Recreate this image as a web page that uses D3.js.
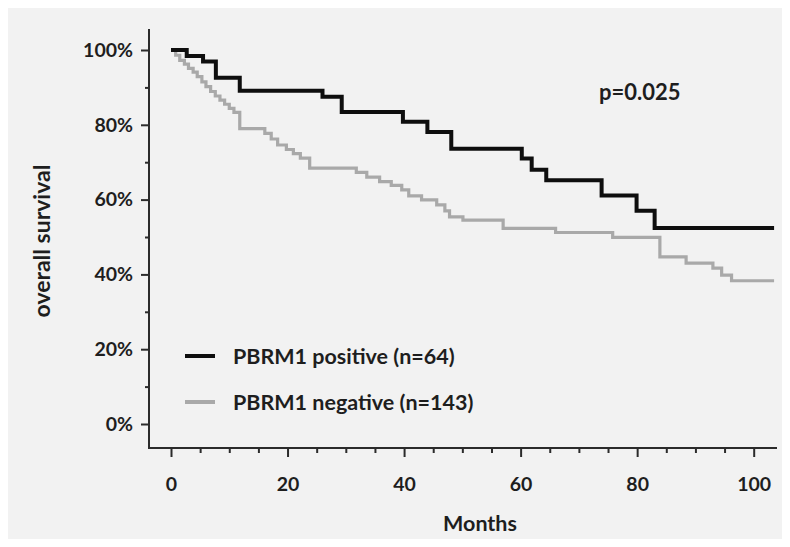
<!DOCTYPE html>
<html>
<head>
<meta charset="utf-8">
<script src="https://cdn.jsdelivr.net/npm/d3@7"></script>
<style>
  body { margin: 0; background: #fff; }
  svg text { font-family: Lato, "Open Sans", sans-serif; font-weight: 700; fill: #1e1e1e; }
</style>
</head>
<body>
<svg id="chart"></svg>
<script>
// Kaplan-Meier steps (months, survival %)
var posMonths = [0, 2.7, 5.5, 7.7, 11.8, 26, 29.3, 39.8, 44, 48.1, 60.2, 61.9, 64.4, 73.9, 79.9, 83];
var posSurv   = [100, 98.4, 96.9, 92.6, 89.1, 87.5, 83.4, 80.8, 78.1, 73.6, 71.0, 68.0, 65.2, 61.1, 57.0, 52.4];

var negMonths = [0, 0.8, 1.5, 2.3, 3, 3.8, 4.5, 5.3, 6, 6.8, 7.6, 8.4, 9.2, 10, 10.8, 11.8, 16.1, 17.2, 18.3,
  19.8, 21, 22.2, 23.8, 31.8, 33.6, 35.8, 37.8, 39.6, 40.8, 43, 45.6, 47, 47.8, 50.1, 57, 66, 75.8, 83.9, 88.4,
  93, 94.5, 96.2];
var negSurv = [100, 98.6, 97.2, 96.2, 95.1, 94.1, 92.9, 91.5, 90.2, 88.9, 87.7, 86.6, 85.5, 84.4, 83.3, 79.0, 77.7, 76.2, 74.6,
  73.4, 72.3, 71.1, 68.4, 67.3, 66.0, 64.8, 63.8, 62.6, 61.0, 59.9, 58.6, 57.0, 55.4, 54.5, 52.3, 51.2, 49.9, 44.7, 43.0,
  41.7, 39.8, 38.3];

var lastMonth = 103.5;
var xTicks = [0, 20, 40, 60, 80, 100];
var yTicks = [0, 20, 40, 60, 80, 100];
var seriesNames = ["PBRM1 positive (n=64)", "PBRM1 negative (n=143)"];
var pText = "p=0.025";

var width = 790, height = 547;
var svg = d3.select("#chart").attr("width", width).attr("height", height);

// gray panel
svg.append("rect").attr("x", 8).attr("y", 8).attr("width", width - 16).attr("height", height - 16)
  .attr("fill", "#f2f2f2");

var x = d3.scaleLinear().domain([0, 104]).range([171, 777]);
var y = d3.scaleLinear().domain([0, 100]).range([424, 50]);

var axisX0 = 149, axisY0 = 448;
var axisColor = "#2b2b2b";

// axis lines (they meet in the corner, offset from zero)
svg.append("line").attr("x1", axisX0).attr("x2", axisX0).attr("y1", 29).attr("y2", axisY0)
  .attr("stroke", axisColor).attr("stroke-width", 2);
svg.append("line").attr("x1", axisX0 - 1).attr("x2", x(104)).attr("y1", axisY0).attr("y2", axisY0)
  .attr("stroke", axisColor).attr("stroke-width", 2);

// y axis
var gy = svg.append("g").attr("transform", "translate(" + axisX0 + ",0)");
gy.call(d3.axisLeft(y).tickValues(d3.range(10, 100, 20)).tickSize(4).tickFormat(""));
gy.select(".domain").remove();
var gy2 = svg.append("g").attr("transform", "translate(" + axisX0 + ",0)");
gy2.call(d3.axisLeft(y).tickValues(yTicks).tickSize(8).tickPadding(8).tickFormat(d => d + "%"));
gy2.select(".domain").remove();
gy2.selectAll("text").attr("font-size", 19.5).attr("fill", "#1e1e1e");

// x axis
var gx = svg.append("g").attr("transform", "translate(0," + axisY0 + ")");
gx.call(d3.axisBottom(x).tickValues(d3.range(5, 104, 5).filter(d => d % 20 != 0)).tickSize(5).tickFormat(""));
gx.select(".domain").remove();
var gx2 = svg.append("g").attr("transform", "translate(0," + axisY0 + ")");
gx2.call(d3.axisBottom(x).tickValues(xTicks).tickSize(9).tickPadding(20));
gx2.select(".domain").remove();
gx2.selectAll("text").attr("font-size", 19.5).attr("fill", "#1e1e1e");
svg.selectAll("g.tick line").attr("stroke", axisColor).attr("stroke-width", 2);

// axis titles
svg.append("text").attr("x", 480).attr("y", 531).attr("text-anchor", "middle")
  .attr("font-size", 21.5).text("Months");
svg.append("text").attr("transform", "translate(50,241) rotate(-90)").attr("text-anchor", "middle")
  .attr("font-size", 23).text("overall survival");

// curves
function toPoints(months, surv) {
  var pts = months.map((m, i) => [m, surv[i]]);
  pts.push([lastMonth, surv[surv.length - 1]]);
  return pts;
}
var line = d3.line().x(d => x(d[0])).y(d => y(d[1])).curve(d3.curveStepAfter);

svg.append("path").datum(toPoints(negMonths, negSurv)).attr("d", line)
  .attr("fill", "none").attr("stroke", "#a9a9a9").attr("stroke-width", 3.2);
svg.append("path").datum(toPoints(posMonths, posSurv)).attr("d", line)
  .attr("fill", "none").attr("stroke", "#0e0e0e").attr("stroke-width", 4);

// legend
var legendColors = ["#0e0e0e", "#a9a9a9"];
var lg = svg.selectAll("g.legend").data(seriesNames).enter().append("g")
  .attr("class", "legend")
  .attr("transform", (d, i) => "translate(185," + (356 + i * 46) + ")");
lg.append("line").attr("x1", 0).attr("x2", 30).attr("y1", 0).attr("y2", 0)
  .attr("stroke", (d, i) => legendColors[i]).attr("stroke-width", 4);
lg.append("text").attr("x", 48).attr("y", 8).attr("font-size", 21.5).text(d => d);

// p value
svg.append("text").attr("x", 599).attr("y", 100).attr("font-size", 22).text(pText);
</script>
</body>
</html>
